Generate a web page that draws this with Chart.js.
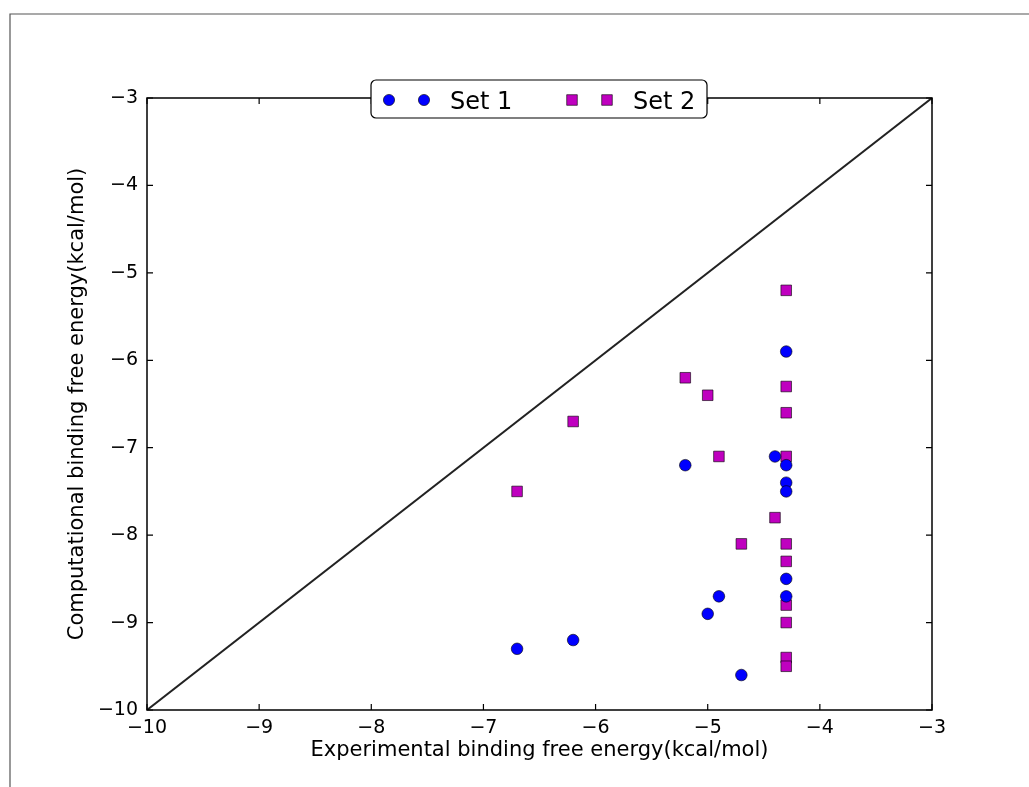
<!DOCTYPE html>
<html>
<head>
<meta charset="utf-8">
<title>Binding free energy</title>
<script src="https://cdn.jsdelivr.net/npm/chart.js@4.4.0/dist/chart.umd.min.js"></script>
<style>
  body { margin: 0; background: #fff; }
  canvas { display: block; }
</style>
</head>
<body>
<canvas id="myChart" width="1029" height="787"></canvas>
<script>
// values
const set1X = [-6.7, -6.2, -5.2, -5.0, -4.9, -4.7, -4.4, -4.3, -4.3, -4.3, -4.3, -4.3, -4.3];
const set1Y = [-9.3, -9.2, -7.2, -8.9, -8.7, -9.6, -7.1, -5.9, -7.2, -7.4, -7.5, -8.5, -8.7];
const set2X = [-6.7, -6.2, -5.2, -5.0, -4.9, -4.7, -4.4, -4.3, -4.3, -4.3, -4.3, -4.3, -4.3, -4.3, -4.3, -4.3, -4.3];
const set2Y = [-7.5, -6.7, -6.2, -6.4, -7.1, -8.1, -7.8, -5.2, -6.3, -6.6, -7.1, -8.1, -8.3, -8.8, -9.0, -9.4, -9.5];
const diagonal = [-10, -3];
const tickValues = [-10, -9, -8, -7, -6, -5, -4, -3];

const toPoints = (xs, ys) => xs.map((x, i) => ({ x: x, y: ys[i] }));
const fmt = (v) => (v < 0 ? "\u2212" + Math.abs(v) : String(v));
const FONT = "'DejaVu Sans', sans-serif";

/* figure border, inward ticks, axes frame, legend */
const decor = {
  id: "decor",
  beforeDraw(chart) {
    const ctx = chart.ctx;
    ctx.save();
    ctx.strokeStyle = "#555";
    ctx.lineWidth = 1.2;
    ctx.beginPath();
    ctx.moveTo(10, 787);
    ctx.lineTo(10, 14);
    ctx.lineTo(1029, 14);
    ctx.stroke();
    ctx.restore();
  },
  afterDatasetsDraw(chart) {
    const { ctx, chartArea: a, scales } = chart;
    ctx.save();
    ctx.strokeStyle = "#000";
    ctx.lineWidth = 1.5;
    ctx.strokeRect(a.left, a.top, a.right - a.left, a.bottom - a.top);
    ctx.lineWidth = 1.2;
    ctx.beginPath();
    tickValues.forEach((v) => {
      const px = scales.x.getPixelForValue(v);
      ctx.moveTo(px, a.bottom); ctx.lineTo(px, a.bottom - 6);
      ctx.moveTo(px, a.top); ctx.lineTo(px, a.top + 6);
      const py = scales.y.getPixelForValue(v);
      ctx.moveTo(a.left, py); ctx.lineTo(a.left + 6, py);
      ctx.moveTo(a.right, py); ctx.lineTo(a.right - 6, py);
    });
    ctx.stroke();

    // legend with two markers per entry
    const bx = 371, by = 80, bw = 336, bh = 38, r = 5;
    ctx.beginPath();
    ctx.moveTo(bx + r, by);
    ctx.arcTo(bx + bw, by, bx + bw, by + bh, r);
    ctx.arcTo(bx + bw, by + bh, bx, by + bh, r);
    ctx.arcTo(bx, by + bh, bx, by, r);
    ctx.arcTo(bx, by, bx + bw, by, r);
    ctx.closePath();
    ctx.fillStyle = "#fff";
    ctx.fill();
    ctx.lineWidth = 1.2;
    ctx.strokeStyle = "#000";
    ctx.stroke();

    const ds = chart.data.datasets;
    const entries = [
      { d: ds[0], x0: 389, tx: 450 },
      { d: ds[1], x0: 572, tx: 633 },
    ];
    const my = 100;
    entries.forEach((e) => {
      [e.x0, e.x0 + 35].forEach((mx) => {
        ctx.beginPath();
        if (e.d.pointStyle === "rect") {
          ctx.rect(mx - 5.3, my - 5.3, 10.6, 10.6);
        } else {
          ctx.arc(mx, my, 5.6, 0, Math.PI * 2);
        }
        ctx.fillStyle = e.d.backgroundColor;
        ctx.fill();
        ctx.lineWidth = 0.6;
        ctx.strokeStyle = "#000";
        ctx.stroke();
      });
      ctx.fillStyle = "#000";
      ctx.font = "24px " + FONT;
      ctx.textBaseline = "alphabetic";
      ctx.textAlign = "left";
      ctx.fillText(e.d.label, e.tx, my + 9);
    });
    ctx.restore();
  },
};

const ctx = document.getElementById("myChart");

new Chart(ctx, {
  type: "scatter",
  data: {
    datasets: [
      {
        label: "Set 1",
        data: toPoints(set1X, set1Y),
        pointStyle: "circle",
        pointRadius: 5.8,
        backgroundColor: "#0000ff",
        borderColor: "#000",
        borderWidth: 0.6,
      },
      {
        label: "Set 2",
        data: toPoints(set2X, set2Y),
        pointStyle: "rect",
        pointRadius: 7.5,
        backgroundColor: "#bf00bf",
        borderColor: "#000",
        borderWidth: 0.6,
      },
      {
        type: "line",
        label: "diagonal",
        data: toPoints(diagonal, diagonal),
        showLine: true,
        pointRadius: 0,
        borderColor: "#222",
        borderWidth: 2,
        order: 5,
      },
    ],
  },
  options: {
    responsive: false,
    animation: false,
    layout: { padding: { top: 98, right: 97, left: 0, bottom: 0 } },
    plugins: {
      legend: { display: false },
      tooltip: { enabled: false },
    },
    scales: {
      x: {
        type: "linear",
        min: -10,
        max: -3,
        afterFit: (s) => { s.height = 77; },
        afterBuildTicks: (s) => { s.ticks = tickValues.map((v) => ({ value: v })); },
        grid: { display: false, drawTicks: false },
        border: { display: false },
        ticks: {
          color: "#000",
          font: { family: FONT, size: 19 },
          padding: 7,
          maxRotation: 0,
          callback: fmt,
        },
        title: {
          display: true,
          text: "Experimental binding free energy(kcal/mol)",
          color: "#000",
          font: { family: FONT, size: 21 },
          padding: { top: 0, bottom: 24 },
        },
      },
      y: {
        type: "linear",
        min: -10,
        max: -3,
        afterFit: (s) => { s.width = 147; },
        afterBuildTicks: (s) => { s.ticks = tickValues.map((v) => ({ value: v })); },
        grid: { display: false, drawTicks: false },
        border: { display: false },
        ticks: {
          color: "#000",
          font: { family: FONT, size: 19 },
          padding: 9,
          callback: fmt,
        },
        title: {
          display: true,
          text: "Computational binding free energy(kcal/mol)",
          color: "#000",
          font: { family: FONT, size: 21 },
          padding: { top: 65, bottom: 0 },
        },
      },
    },
  },
  plugins: [decor],
});
</script>
</body>
</html>
